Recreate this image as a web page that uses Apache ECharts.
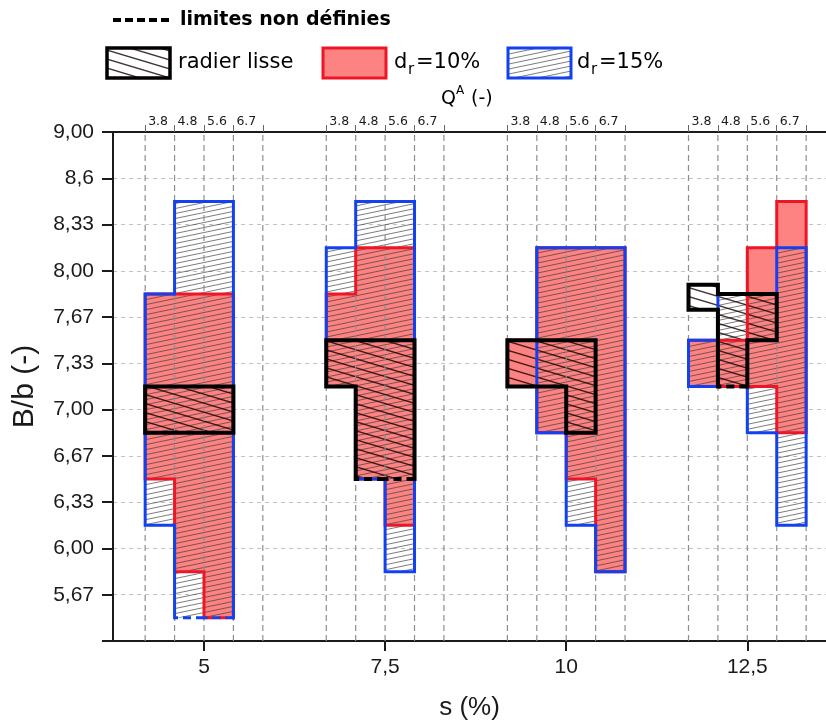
<!DOCTYPE html>
<html>
<head>
<meta charset="utf-8">
<script src="https://cdn.jsdelivr.net/npm/echarts@6/dist/echarts.min.js"></script>
<style>
html,body{margin:0;padding:0;background:#fff;}
#chart{width:826px;height:724px;}
</style>
</head>
<body>
<div id="chart"></div>
<script>
// ---------------- DATA ----------------
const S_VALUES = [5, 7.5, 10, 12.5];                 // s (%)
const QA_LABELS = ['3.8', '4.8', '5.6', '6.7'];      // Q^A (-) columns in each s group
const Y_TICK_VALUES = [9.00, 8.667, 8.333, 8.00, 7.667, 7.333, 7.00, 6.667, 6.333, 6.00, 5.667];
const Y_TICK_LABELS = ['9,00', '8,6', '8,33', '8,00', '7,67', '7,33', '7,00', '6,67', '6,33', '6,00', '5,67'];

// B/b range [lower, upper] for each s group (rows) and Q^A column (cols); null = none
const RADIER_LISSE = [
  [[6.833, 7.167], [6.833, 7.167], [6.833, 7.167], null],
  [[7.167, 7.5], [6.5, 7.5], [6.5, 7.5], null],
  [[7.167, 7.5], [7.167, 7.5], [6.833, 7.5], null],
  [[7.72, 7.9], [7.167, 7.833], [7.5, 7.833], null]
];
const DR_10 = [
  [[6.5, 7.833], [5.833, 7.833], [5.5, 7.833], null],
  [[7.167, 7.833], [6.5, 8.167], [6.167, 8.167], null],
  [[7.167, 7.5], [6.833, 8.167], [6.5, 8.167], [5.833, 8.167]],
  [[7.167, 7.5], [7.167, 7.5], [7.167, 8.167], [6.833, 8.5]]
];
const DR_15 = [
  [[6.167, 7.833], [5.5, 8.5], [5.5, 8.5], null],
  [[7.167, 8.167], [6.5, 8.5], [5.833, 8.5], null],
  [null, [6.833, 8.167], [6.167, 8.167], [5.833, 8.167]],
  [[7.167, 7.5], [7.167, 7.833], [6.833, 7.833], [6.167, 8.167]]
];
// Q^A columns whose lower limit is not defined (dashed edge), per s group
const RADIER_LISSE_UNDEF = [[], [1, 2], [], [1]];
const DR_10_UNDEF = [[2], [], [], [1]];
const DR_15_UNDEF = [[1, 2], [], [], [1]];

// ---------------- LAYOUT / STYLE ----------------
const COL_W = 0.406;            // width of a Q^A column, in s units
const X_MIN = 3.744, X_MAX = 13.586;
const U = b => b * 3;           // B/b -> axis unit (thirds)
const colEdge = (s, j) => +(s + (j - 2) * COL_W).toFixed(4);

const RED_FILL = '#fd8282', RED = '#ee1526', BLUE = '#1241f0', BLACK = '#000';
const AXIS_C = '#1a1a1a';

function hatch(w, h, rising, color, lw) {
  const c = document.createElement('canvas');
  c.width = w; c.height = h;
  const g = c.getContext('2d');
  g.strokeStyle = color; g.lineWidth = lw;
  for (let k = -1; k <= 1; k++) {
    g.beginPath();
    if (rising) { g.moveTo(0, h + k * h); g.lineTo(w, k * h); }
    else { g.moveTo(0, k * h); g.lineTo(w, h + k * h); }
    g.stroke();
  }
  return { image: c, repeat: 'repeat' };
}
const BLUE_HATCH = hatch(24, 5, true, 'rgba(60,60,60,0.75)', 0.9);
const BLACK_HATCH = hatch(30, 9, false, 'rgba(25,0,0,0.8)', 1.4);

// all column edges & top labels
const EDGES = [];
const TOP_LABEL_VALUES = [];
const TOP_LABEL_MAP = {};
S_VALUES.forEach(s => {
  for (let j = 0; j <= QA_LABELS.length; j++) EDGES.push(colEdge(s, j));
  QA_LABELS.forEach((q, j) => {
    const v = colEdge(s, j);
    TOP_LABEL_VALUES.push(v);
    TOP_LABEL_MAP[v.toFixed(4)] = q;
  });
});

function outline(ranges, s, undef) {
  const cols = [];
  ranges.forEach((r, j) => { if (r) cols.push(j); });
  if (!cols.length) return null;
  const j0 = cols[0], j1 = cols[cols.length - 1];
  const pts = [], flags = [];
  for (let j = j0; j <= j1; j++) {
    pts.push([colEdge(s, j), ranges[j][1]]); flags.push(false);
    pts.push([colEdge(s, j + 1), ranges[j][1]]); flags.push(false);
  }
  for (let j = j1; j >= j0; j--) {
    pts.push([colEdge(s, j + 1), ranges[j][0]]); flags.push(undef.indexOf(j) >= 0);
    pts.push([colEdge(s, j), ranges[j][0]]); flags.push(false);
  }
  return { pts, flags };
}

function fillSeries(name, data, fill, z) {
  return {
    type: 'custom', name, xAxisIndex: 0, yAxisIndex: 0, z, silent: true, animation: false,
    data: S_VALUES.map((s, g) => [s, g]),
    renderItem: (params, api) => {
      const g = params.dataIndex;
      const o = outline(data[g], api.value(0), []);
      if (!o) return null;
      const P = o.pts.map(p => api.coord([p[0], U(p[1])]));
      return { type: 'polygon', shape: { points: P }, style: { fill: fill, stroke: null } };
    }
  };
}

function strokeSeries(name, data, undef, color, width, dashOffset, z) {
  return {
    type: 'custom', name: name + ' contour', xAxisIndex: 0, yAxisIndex: 0, z, silent: true, animation: false,
    data: S_VALUES.map((s, g) => [s, g]),
    renderItem: (params, api) => {
      const g = params.dataIndex;
      const o = outline(data[g], api.value(0), undef[g]);
      if (!o) return null;
      const P = o.pts.map(p => api.coord([p[0], U(p[1])]));
      const n = P.length, F = o.flags;
      const solid = { fill: 'none', stroke: color, lineWidth: width, lineJoin: 'miter', lineCap: 'square' };
      const children = [];
      const d = F.indexOf(true);
      if (d < 0) {
        children.push({ type: 'polygon', shape: { points: P }, style: solid });
      } else {
        let run = null;
        for (let t = 1; t <= n; t++) {
          const i = (d + t) % n, k = (i + 1) % n;
          if (F[i]) {
            if (run) { children.push({ type: 'polyline', shape: { points: run }, style: solid }); run = null; }
            children.push({
              type: 'line',
              shape: { x1: P[i][0], y1: P[i][1], x2: P[k][0], y2: P[k][1] },
              style: { stroke: color, lineWidth: width, lineDash: [8, 5], lineDashOffset: dashOffset, lineCap: 'butt' }
            });
          } else {
            if (!run) run = [P[i]];
            run.push(P[k]);
          }
        }
        if (run) children.push({ type: 'polyline', shape: { points: run }, style: solid });
      }
      return { type: 'group', children };
    }
  };
}

const gridSeries = {
  type: 'custom', name: 'grid', xAxisIndex: 0, yAxisIndex: 0, z: 4, silent: true, animation: false,
  data: EDGES.map(x => [x, 16]),
  renderItem: (params, api) => {
    const a = api.coord([api.value(0), 16]);
    const b = api.coord([api.value(0), 27]);
    return {
      type: 'line', shape: { x1: a[0], y1: a[1], x2: b[0], y2: b[1] },
      style: { stroke: '#8e8e8e', lineWidth: 1.2, lineDash: [6, 4] }
    };
  }
};

const legendFont = '"DejaVu Sans", sans-serif';
const graphic = [
  { type: 'line', shape: { x1: 113, y1: 20, x2: 173, y2: 20 }, style: { stroke: '#000', lineWidth: 4, lineDash: [8, 4] } },
  { type: 'text', x: 180, y: 20, style: { text: 'limites non définies', fontFamily: legendFont, fontSize: 19, fontWeight: 'bold', fill: '#000', verticalAlign: 'middle' } },

  { type: 'rect', shape: { x: 107, y: 48, width: 63, height: 30 }, style: { fill: '#fff' } },
  { type: 'rect', shape: { x: 107, y: 48, width: 63, height: 30 }, style: { fill: BLACK_HATCH, stroke: BLACK, lineWidth: 3.5 } },
  { type: 'text', x: 178, y: 63, style: { text: 'radier lisse', fontFamily: legendFont, fontSize: 21, fill: '#000', verticalAlign: 'middle' } },

  { type: 'rect', shape: { x: 323, y: 48, width: 63, height: 30 }, style: { fill: RED_FILL, stroke: RED, lineWidth: 3 } },
  { type: 'text', x: 394, y: 63, style: { text: 'd', fontFamily: legendFont, fontSize: 21, fill: '#000', verticalAlign: 'middle' } },
  { type: 'text', x: 408, y: 70, style: { text: 'r', fontFamily: legendFont, fontSize: 15, fill: '#000', verticalAlign: 'middle' } },
  { type: 'text', x: 416, y: 63, style: { text: '=10%', fontFamily: legendFont, fontSize: 21, fill: '#000', verticalAlign: 'middle' } },

  { type: 'rect', shape: { x: 508, y: 48, width: 63, height: 30 }, style: { fill: '#fff' } },
  { type: 'rect', shape: { x: 508, y: 48, width: 63, height: 30 }, style: { fill: BLUE_HATCH, stroke: BLUE, lineWidth: 3 } },
  { type: 'text', x: 577, y: 63, style: { text: 'd', fontFamily: legendFont, fontSize: 21, fill: '#000', verticalAlign: 'middle' } },
  { type: 'text', x: 591, y: 70, style: { text: 'r', fontFamily: legendFont, fontSize: 15, fill: '#000', verticalAlign: 'middle' } },
  { type: 'text', x: 599, y: 63, style: { text: '=15%', fontFamily: legendFont, fontSize: 21, fill: '#000', verticalAlign: 'middle' } },

  // top axis title Q^A (-)
  { type: 'text', x: 441, y: 99, style: { text: 'Q', fontFamily: legendFont, fontSize: 19, fill: '#000', verticalAlign: 'middle' } },
  { type: 'text', x: 456, y: 91, style: { text: 'A', fontFamily: legendFont, fontSize: 12, fill: '#000', verticalAlign: 'middle' } },
  { type: 'text', x: 471, y: 99, style: { text: '(-)', fontFamily: legendFont, fontSize: 19, fill: '#000', verticalAlign: 'middle' } }
];

const option = {
  backgroundColor: '#fff',
  animation: false,
  grid: { left: 113, right: 0, top: 132, bottom: 83, containLabel: false, outerBoundsMode: 'none' },
  xAxis: [
    {
      type: 'value', position: 'bottom', min: X_MIN, max: X_MAX,
      axisLine: { show: true, onZero: false, lineStyle: { color: AXIS_C, width: 2 } },
      axisTick: { show: true, customValues: S_VALUES, length: 10, lineStyle: { color: AXIS_C, width: 2 } },
      axisLabel: {
        customValues: S_VALUES, formatter: v => String(v).replace('.', ','),
        fontFamily: 'Liberation Sans', fontSize: 21, color: AXIS_C, margin: 16
      },
      splitLine: { show: false },
      name: 's (%)', nameLocation: 'middle', nameGap: 54,
      nameTextStyle: { fontFamily: 'Liberation Sans', fontSize: 26, color: AXIS_C }
    },
    {
      type: 'value', position: 'top', min: X_MIN, max: X_MAX,
      axisLine: { show: true, onZero: false, lineStyle: { color: AXIS_C, width: 2 } },
      axisTick: { show: true, customValues: EDGES, length: 7, lineStyle: { color: '#666', width: 1 } },
      axisLabel: {
        customValues: TOP_LABEL_VALUES, formatter: v => TOP_LABEL_MAP[(+v).toFixed(4)] || '',
        align: 'left', padding: [0, 0, 0, 3],
        fontFamily: 'DejaVu Sans', fontSize: 12.5, color: AXIS_C, margin: 4
      },
      splitLine: { show: false }
    }
  ],
  yAxis: {
    type: 'value', min: 16, max: 27, interval: 1,
    axisLine: { show: true, onZero: false, lineStyle: { color: AXIS_C, width: 2 } },
    axisTick: { show: true, length: 11, lineStyle: { color: AXIS_C, width: 2 } },
    axisLabel: {
      formatter: v => { const i = Y_TICK_VALUES.findIndex(t => Math.round(U(t)) === v); return i >= 0 ? Y_TICK_LABELS[i] : ''; },
      fontFamily: 'Liberation Sans', fontSize: 21, color: AXIS_C, margin: 19
    },
    splitLine: { show: true, lineStyle: { color: '#c2c2c2', type: [4, 4], width: 1 } },
    name: 'B/b (-)', nameLocation: 'middle', nameGap: 73,
    nameTextStyle: { fontFamily: 'Liberation Sans', fontSize: 30, color: AXIS_C }
  },
  series: [
    fillSeries('d_r=10%', DR_10, RED_FILL, 2),
    fillSeries('d_r=15%', DR_15, BLUE_HATCH, 3),
    fillSeries('radier lisse', RADIER_LISSE, BLACK_HATCH, 3),
    gridSeries,
    strokeSeries('d_r=10%', DR_10, DR_10_UNDEF, RED, 3, 6.5, 10),
    strokeSeries('d_r=15%', DR_15, DR_15_UNDEF, BLUE, 3, 0, 11),
    strokeSeries('radier lisse', RADIER_LISSE, RADIER_LISSE_UNDEF, BLACK, 4, 0, 12)
  ],
  graphic: graphic
};

const chart = echarts.init(document.getElementById('chart'), null, { renderer: 'canvas' });
chart.setOption(option);
</script>
</body>
</html>
